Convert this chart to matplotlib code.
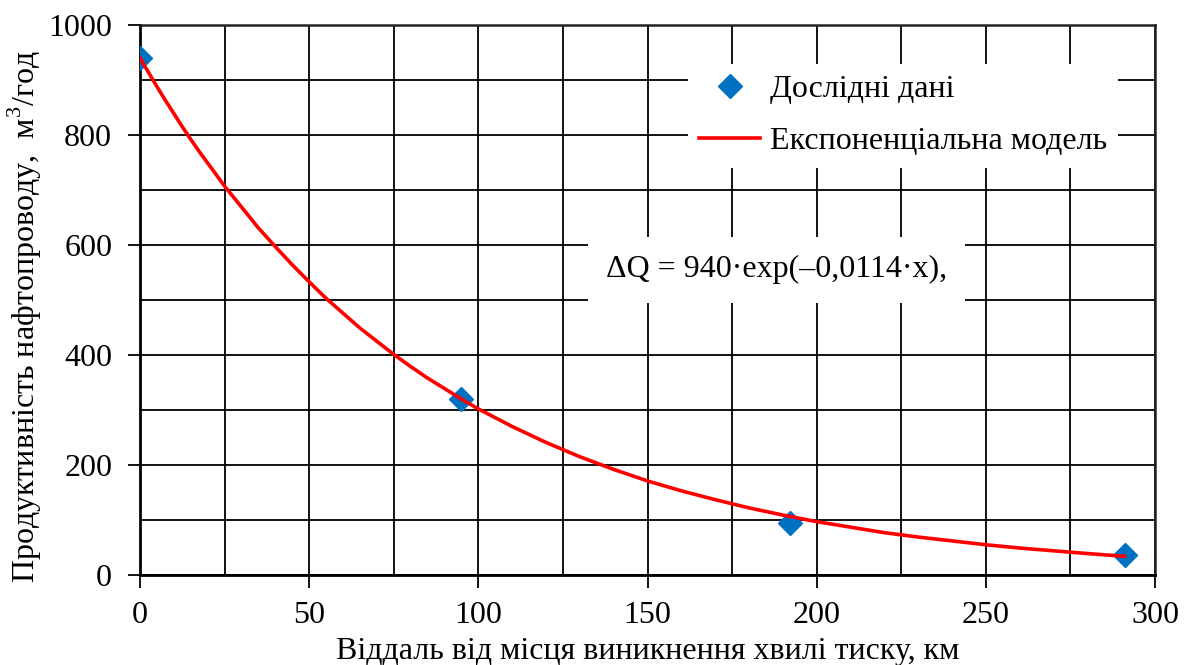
import matplotlib
matplotlib.use("Agg")
import matplotlib.pyplot as plt
from matplotlib.ticker import MultipleLocator

plt.rcParams['font.family'] = ['Liberation Serif', 'DejaVu Serif']
plt.rcParams['mathtext.fontset'] = 'custom'
plt.rcParams['mathtext.rm'] = 'Liberation Serif'

# Experimental data
dist_km = [0, 95, 192, 291]
flow = [940, 320, 95, 37]

# Model curve values
model_x = [0, 2.5, 5, 7.5, 10, 12.5, 15, 17.5, 20, 25, 30, 35, 40, 45, 50, 55, 60,
           65, 70, 75, 80, 85, 90, 95, 100, 110, 120, 130, 140, 150, 160, 170,
           180, 190, 200, 210, 220, 230, 240, 250, 260, 270, 280, 291]
model_y = [940, 914, 888, 863, 839, 815, 792, 770, 749, 707, 669, 631, 597, 564,
           533, 503, 476, 449, 425, 401, 379, 358, 339, 320, 302, 270, 241, 215,
           192, 171, 153, 137, 122, 109, 97, 87, 77, 69, 62, 55, 49, 44, 39, 34]

x_label = "Віддаль від місця виникнення хвилі тиску, км"
y_label = "Продуктивність нафтопроводу,  м$^3$/год"
legend_labels = ["Дослідні дані", "Експоненціальна модель"]
equation = "ΔQ = 940·exp(–0,0114·x),"

FS = 23

fig = plt.figure(figsize=(11.85, 6.65), dpi=100)
ax = fig.add_axes([140/1185, 1 - 575/665, (1155-140)/1185, (575-25)/665])

ax.plot(dist_km, flow, linestyle='none', marker='D', markersize=12,
        color='#0070C0', label=legend_labels[0], zorder=4)
ax.plot(model_x, model_y, color='#FF0000', lw=2.6, label=legend_labels[1], zorder=5)

ax.set_xlim(0, 300)
ax.set_ylim(0, 1000)
ax.xaxis.set_major_locator(MultipleLocator(50))
ax.xaxis.set_minor_locator(MultipleLocator(25))
ax.yaxis.set_major_locator(MultipleLocator(200))
ax.yaxis.set_minor_locator(MultipleLocator(100))
ax.grid(True, which='both', color='black', lw=1.3)
ax.set_axisbelow(True)
ax.tick_params(which='major', direction='out', length=9, width=1.3, labelsize=FS)
ax.tick_params(axis='y', pad=11)
ax.tick_params(axis='x', pad=10)
ax.tick_params(which='minor', length=0)

for s in ['left', 'bottom']:
    ax.spines[s].set_linewidth(2)
    ax.spines[s].set_color('black')
for s in ['top', 'right']:
    ax.spines[s].set_linewidth(1.8)
    ax.spines[s].set_color('#222222')

ax.set_xlabel(x_label, fontsize=FS, labelpad=5)
ax.set_ylabel(y_label, fontsize=FS, labelpad=3)
ax.yaxis.label.set_y(0.47)

leg = ax.legend(loc='upper right', bbox_to_anchor=(0.9635, 0.93), frameon=True,
                fontsize=FS, framealpha=1, edgecolor='white', fancybox=False,
                handlelength=1.9, handletextpad=0.3, labelspacing=0.72, borderpad=0.35,
                borderaxespad=0)
leg.get_frame().set_linewidth(0)

ax.text(0.627, 0.555, equation, transform=ax.transAxes, fontsize=FS,
        ha='center', va='center', zorder=6,
        bbox=dict(facecolor='white', edgecolor='none', pad=13))

fig.savefig("out.png", dpi=100)
